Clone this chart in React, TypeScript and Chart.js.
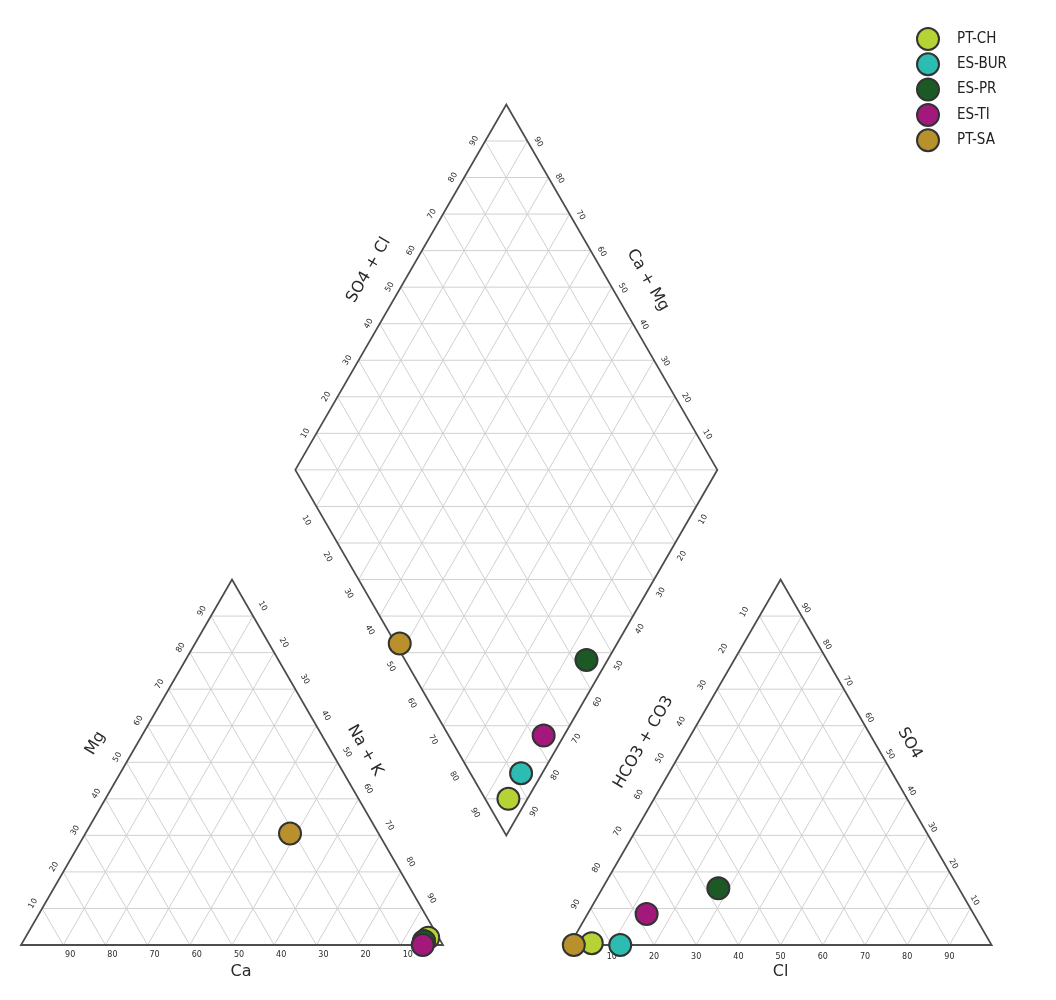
import React, { useEffect, useRef } from 'react';
import { Chart, registerables } from 'chart.js';

Chart.register(...registerables);

// ---- data ----
const sampleNames = ['PT-CH', 'ES-BUR', 'ES-PR', 'ES-TI', 'PT-SA'];
const sampleColors = ['#b5d334', '#2cbcb1', '#1c5a25', '#a2197b', '#b8912d'];
// cations (% meq)
const caPct = [2.5, 4, 4, 4.8, 21];
const mgPct = [2, 1, 1, 0, 30.5];
const naKPct = [95.5, 95, 95, 95.2, 48.5];
// anions (% meq)
const hco3Pct = [94.5, 88, 57, 77.5, 99];
const clPct = [5, 12, 27.5, 14, 1];
const so4Pct = [0.5, 0, 15.5, 8.5, 0];
// ticks
const tickValues = [10, 20, 30, 40, 50, 60, 70, 80, 90];

// ---- geometry (unit triangle side = 1) ----
const H = Math.sqrt(3) / 2;
const GAP = 0.3;
const AN_X = 1 + GAP;
const DB: [number, number] = [1 + GAP / 2, GAP * H];
const DL: [number, number] = [DB[0] - 0.5, DB[1] + H];

type P = [number, number];
const cationXY = (ca: number, mg: number, nak: number): P => {
  const t = ca + mg + nak;
  const n = nak / t, m = mg / t;
  return [n + m / 2, m * H];
};
const anionXY = (hco3: number, cl: number, so4: number): P => {
  const t = hco3 + cl + so4;
  const c = cl / t, s = so4 / t;
  return [AN_X + c + s / 2, s * H];
};
const diamondXY = (a: number, b: number): P => [
  DL[0] + a * 0.5 + b * 0.5,
  DL[1] - a * H + b * H,
];

const FONT = '"DejaVu Sans", sans-serif';

const piperPlugin = {
  id: 'piper',
  beforeDatasetsDraw(chart: any) {
    const { ctx } = chart;
    const sx = chart.scales.x, sy = chart.scales.y;
    const px = (p: P): P => [sx.getPixelForValue(p[0]), sy.getPixelForValue(p[1])];
    const seg = (a: P, b: P) => {
      const A = px(a), B = px(b);
      ctx.moveTo(A[0], A[1]);
      ctx.lineTo(B[0], B[1]);
    };
    ctx.save();
    // grid
    ctx.beginPath();
    ctx.strokeStyle = '#d0d0d0';
    ctx.lineWidth = 1;
    for (const ox of [0, AN_X]) {
      for (const v of tickValues) {
        const f = v / 100;
        seg([ox + f / 2, f * H], [ox + 1 - f / 2, f * H]);
        seg([ox + f, 0], [ox + f + (1 - f) / 2, (1 - f) * H]);
        seg([ox + 1 - f, 0], [ox + (1 - f) / 2, (1 - f) * H]);
      }
    }
    for (const v of tickValues) {
      const f = v / 100;
      seg(diamondXY(f, 0), diamondXY(f, 1));
      seg(diamondXY(0, f), diamondXY(1, f));
    }
    for (let k = -9; k <= 9; k++) {
      const d = k / 10;
      if (d >= 0) seg(diamondXY(d, 0), diamondXY(1, 1 - d));
      else seg(diamondXY(0, -d), diamondXY(1 + d, 1));
    }
    ctx.stroke();
    // outlines
    ctx.beginPath();
    ctx.strokeStyle = '#4d4d4d';
    ctx.lineWidth = 1.8;
    ctx.lineJoin = 'miter';
    for (const ox of [0, AN_X]) {
      const a = px([ox, 0]), b = px([ox + 1, 0]), c = px([ox + 0.5, H]);
      ctx.moveTo(a[0], a[1]); ctx.lineTo(b[0], b[1]); ctx.lineTo(c[0], c[1]); ctx.closePath();
    }
    {
      const l = px(diamondXY(0, 0)), b = px(diamondXY(1, 0)), r = px(diamondXY(1, 1)), t = px(diamondXY(0, 1));
      ctx.moveTo(l[0], l[1]); ctx.lineTo(b[0], b[1]); ctx.lineTo(r[0], r[1]); ctx.lineTo(t[0], t[1]); ctx.closePath();
    }
    ctx.stroke();

    // tick labels
    const label = (text: string, p: P, dx: number, dy: number, rot: number, size = 8) => {
      const A = px(p);
      ctx.save();
      ctx.translate(A[0] + dx, A[1] + dy);
      ctx.rotate(rot);
      ctx.font = `${size}px ${FONT}`;
      ctx.fillStyle = '#2a2a2a';
      ctx.textAlign = 'center';
      ctx.textBaseline = 'middle';
      ctx.fillText(text, 0, 0);
      ctx.restore();
    };
    const R60 = Math.PI / 3;
    for (const v of tickValues) {
      const f = v / 100;
      const s = String(v);
      // cation
      label(s, [1 - f, 0], 7, 10, 0);
      label(s, [f / 2, f * H], -9, -5, -R60);
      label(s, [f + (1 - f) / 2, (1 - f) * H], 9.5, -10, R60);
      // anion
      label(s, [AN_X + f, 0], 0, 12, 0);
      label(s, [AN_X + (1 - f) / 2, (1 - f) * H], -15, -4, -R60);
      label(s, [AN_X + 1 - f + f / 2, f * H], 4, -8, R60);
      // diamond
      label(s, diamondXY(f, 0), -10, 14, R60);
      label(s, diamondXY(1, 1 - f), 7, 13, -R60);
      label(s, diamondXY(0, f), -11, 0, -R60);
      label(s, diamondXY(1 - f, 1), 11, 1, R60);
    }
    // axis titles
    const mid = (a: P, b: P): P => [(a[0] + b[0]) / 2, (a[1] + b[1]) / 2];
    const T = 16;
    label('Ca', [0.5, 0], 9, 27, 0, T);
    label('Mg', mid([0, 0], [0.5, H]), -31, -19, -R60, T);
    label('Na + K', mid([1, 0], [0.5, H]), 27.5, -12, R60, T);
    label('Cl', [AN_X + 0.5, 0], 0, 27, 0, T);
    label('HCO3 + CO3', mid([AN_X, 0], [AN_X + 0.5, H]), -31.5, -20, -R60, T);
    label('SO4', mid([AN_X + 1, 0], [AN_X + 0.5, H]), 23.5, -19, R60, T);
    label('SO4 + Cl', mid(diamondXY(0, 0), diamondXY(0, 1)), -32, -17, -R60, T);
    label('Ca + Mg', mid(diamondXY(0, 1), diamondXY(1, 1)), 36, -7, R60, T);
    ctx.restore();
  },
  afterDraw(chart: any) {
    const { ctx } = chart;
    ctx.save();
    chart.data.datasets.forEach((ds: any, i: number) => {
      const cx = 928, cy = 39 + i * 25.3;
      ctx.beginPath();
      ctx.arc(cx, cy, 11, 0, Math.PI * 2);
      ctx.fillStyle = ds.backgroundColor;
      ctx.fill();
      ctx.lineWidth = 2;
      ctx.strokeStyle = ds.borderColor;
      ctx.stroke();
      ctx.font = `15px "DejaVu Sans Condensed", ${FONT}`;
      ctx.fillStyle = '#222222';
      ctx.textAlign = 'left';
      ctx.textBaseline = 'middle';
      ctx.fillText(ds.label, 957, cy);
    });
    ctx.restore();
  },
};

export default function App() {
  const ref = useRef<HTMLCanvasElement | null>(null);
  useEffect(() => {
    if (!ref.current) return;
    const datasets = sampleNames.map((name, i) => ({
      type: 'scatter' as const,
      label: name,
      order: -i,
      data: [
        cationXY(caPct[i], mgPct[i], naKPct[i]),
        anionXY(hco3Pct[i], clPct[i], so4Pct[i]),
        diamondXY(
          naKPct[i] / (caPct[i] + mgPct[i] + naKPct[i]),
          (clPct[i] + so4Pct[i]) / (hco3Pct[i] + clPct[i] + so4Pct[i])
        ),
      ].map((p) => ({ x: p[0], y: p[1] })),
      backgroundColor: sampleColors[i],
      borderColor: '#333333',
      borderWidth: 2,
      pointRadius: 11,
      pointHoverRadius: 11,
      clip: false as any,
    }));
    const pxPerUnit = 422;
    const chart = new Chart(ref.current, {
      type: 'scatter',
      data: { datasets },
      options: {
        animation: false,
        responsive: false,
        maintainAspectRatio: false,
        layout: { padding: 0, autoPadding: false },
        events: [],
        scales: {
          x: { type: 'linear', display: false, min: -21 / pxPerUnit, max: (1056 - 21) / pxPerUnit },
          y: { type: 'linear', display: false, min: -(1000 - 945) / pxPerUnit, max: 945 / pxPerUnit },
        },
        plugins: { legend: { display: false }, tooltip: { enabled: false } },
      },
      plugins: [piperPlugin],
    });
    return () => chart.destroy();
  }, []);
  return (
    <div style={{ position: 'absolute', left: 0, top: 0, width: 1056, height: 1000, background: '#fff' }}>
      <canvas ref={ref} width={1056} height={1000} style={{ display: 'block' }} />
    </div>
  );
}
